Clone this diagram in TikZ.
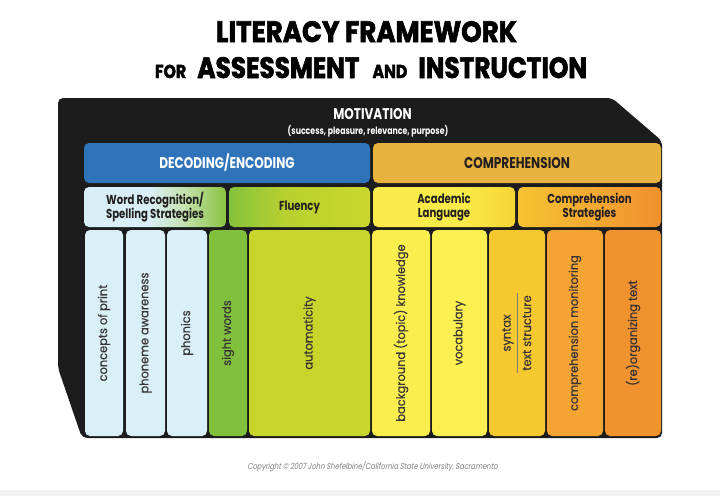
\documentclass[tikz,border=0pt]{standalone}
\usepackage{fontspec}
\setmainfont{Poppins}
\newfontfamily\titlefont{Poppins}[FakeStretch=0.85, BoldFeatures={FakeBold=2}]
\newfontfamily\lblfont{Poppins}[FakeStretch=0.78]
\newfontfamily\colfont{Poppins}[FakeStretch=0.95, FakeBold=0.4]
\newfontfamily\copyfont{Poppins}[FakeSlant=0.2, FakeStretch=0.8]
\definecolor{panel}{HTML}{1C1C1C}
\definecolor{decblue}{HTML}{2F73BA}
\definecolor{compgold}{HTML}{E8B23E}
\definecolor{lblue}{HTML}{D9F0F8}
\definecolor{sightgreen}{HTML}{80C03C}
\definecolor{autogreen}{HTML}{C8D52B}
\definecolor{bgyellow}{HTML}{FAEE4E}
\definecolor{vocyellow}{HTML}{FAF052}
\definecolor{synyellow}{HTML}{F6C830}
\definecolor{monorange}{HTML}{F3A432}
\definecolor{reorange}{HTML}{F0922E}
\definecolor{darktext}{HTML}{231F20}
\definecolor{wrA}{HTML}{D9EFF7}
\definecolor{wrB}{HTML}{C4E2B0}
\definecolor{wrC}{HTML}{8AC43F}
\definecolor{flA}{HTML}{84C23D}
\definecolor{flB}{HTML}{B8D130}
\definecolor{flC}{HTML}{CAD72C}
\definecolor{acA}{HTML}{F9EC4A}
\definecolor{acC}{HTML}{F7D534}
\definecolor{csA}{HTML}{F6C232}
\definecolor{csB}{HTML}{F3AA32}
\definecolor{csC}{HTML}{F0902E}
\pgfdeclarehorizontalshading{wrsh}{100bp}{color(0bp)=(wrA); color(25bp)=(wrA); color(48bp)=(wrA); color(60bp)=(wrB); color(75bp)=(wrC); color(100bp)=(wrC)}
\pgfdeclarehorizontalshading{flsh}{100bp}{color(0bp)=(flA); color(25bp)=(flA); color(45bp)=(flB); color(75bp)=(flC); color(100bp)=(flC)}
\pgfdeclarehorizontalshading{acsh}{100bp}{color(0bp)=(acA); color(25bp)=(acA); color(55bp)=(acA); color(75bp)=(acC); color(100bp)=(acC)}
\pgfdeclarehorizontalshading{cssh}{100bp}{color(0bp)=(csA); color(25bp)=(csA); color(50bp)=(csB); color(75bp)=(csC); color(100bp)=(csC)}
\tikzset{
  hbox/.style={draw=none, rounded corners=5pt, inner sep=0pt, minimum height=40pt, align=center,
    font=\lblfont\bfseries\fontsize{15.5}{17}\selectfont},
  sbox/.style={draw=none, rounded corners=5pt, inner sep=0pt, minimum height=40pt, align=center,
    text=darktext, font=\lblfont\bfseries\fontsize{13}{14}\selectfont},
  colbox/.style={draw=none, rounded corners=5pt, inner sep=0pt, rotate=90, minimum width=206pt,
    text=darktext!90, font=\colfont\fontsize{12}{13}\selectfont},
  coltext/.style={inner sep=0pt, rotate=90, text=darktext!90, font=\colfont\fontsize{12}{13}\selectfont}
}
\begin{document}
\begin{tikzpicture}[x=1pt,y=-1pt]
\useasboundingbox (0,0) rectangle (720,496);
\fill[white] (0,0) rectangle (720,496);
\fill[black!5] (0,490) rectangle (720,496);
% title
\node[anchor=base, inner sep=0pt, font=\titlefont\bfseries] (t1) at (366.5,42)
  {\resizebox{301pt}{21pt}{LITERACY FRAMEWORK}};
\node[anchor=base, inner sep=0pt, font=\titlefont\bfseries] (t2) at (371,78)
  {\resizebox{432pt}{21pt}{\fontsize{19}{20}\selectfont FOR\hspace{8pt} \fontsize{30}{30}\selectfont ASSESSMENT\hspace{8pt} \fontsize{19}{20}\selectfont AND\hspace{8pt} \fontsize{30}{30}\selectfont INSTRUCTION}};
% panel
\fill[panel, rounded corners=5pt] (58,98) -- (612,98) -- (662,141) -- (662,438) -- (82,438) -- (58,368) -- cycle;
\node[anchor=base, inner sep=0pt, text=white, font=\lblfont\bfseries\fontsize{15.5}{17}\selectfont] (mot) at (372.5,119) {MOTIVATION};
\node[anchor=base, inner sep=0pt, text=white, font=\lblfont\bfseries\fontsize{10}{11}\selectfont] (motsub) at (368,134) {(success, pleasure, relevance, purpose)};
% top row
\node[hbox, fill=decblue, text=white, minimum width=286pt] (dec) at (227,163) {DECODING/ENCODING};
\node[hbox, fill=compgold, text=darktext, minimum width=288pt] (comp) at (517,163) {COMPREHENSION};
% second row
\node[sbox, shade, shading=wrsh, minimum width=142pt] (wr) at (155,207) {Word Recognition/\\Spelling Strategies};
\node[sbox, shade, shading=flsh, minimum width=141pt] (flu) at (299.5,207) {Fluency};
\node[sbox, shade, shading=acsh, minimum width=142pt] (acad) at (444,207) {Academic\\Language};
\node[sbox, shade, shading=cssh, minimum width=143pt] (cs) at (589.5,207) {Comprehension\\Strategies};
% columns
\node[colbox, fill=lblue, minimum height=38pt] (c1) at (104,333) {concepts of print};
\node[colbox, fill=lblue, minimum height=39pt] (c2) at (145.5,333) {phoneme awareness};
\node[colbox, fill=lblue, minimum height=40pt] (c3) at (187,333) {phonics};
\node[colbox, fill=sightgreen, minimum height=38pt] (c4) at (228,333) {sight words};
\node[colbox, fill=autogreen, minimum height=121pt] (c5) at (309.5,333) {automaticity};
\node[colbox, fill=bgyellow, minimum height=58pt] (c6) at (401,333) {background (topic) knowledge};
\node[colbox, fill=vocyellow, minimum height=55pt] (c7) at (459.5,333) {vocabulary};
\node[colbox, fill=synyellow, minimum height=56pt] (c8) at (517,333) {};
\node[coltext] (syn) at (508,333) {syntax};
\node[coltext] (ts) at (527,333) {text structure};
\coordinate (ra) at (517,293);
\coordinate (rb) at (517,373);
\draw[darktext!60, line width=0.5pt] (ra) -- (rb);
\node[colbox, fill=monorange, minimum height=56pt] (c9) at (575,333) {comprehension monitoring};
\node[colbox, fill=reorange, minimum height=56pt] (c10) at (633,333) {(re)organizing text};
% copyright
\node[anchor=base, inner sep=0pt, text=black!50, font=\copyfont\fontsize{8.5}{10}\selectfont] (copy) at (372.5,469)
  {Copyright \textcopyright{} 2007 John Shefelbine/California State University, Sacramento};
\end{tikzpicture}
\end{document}
